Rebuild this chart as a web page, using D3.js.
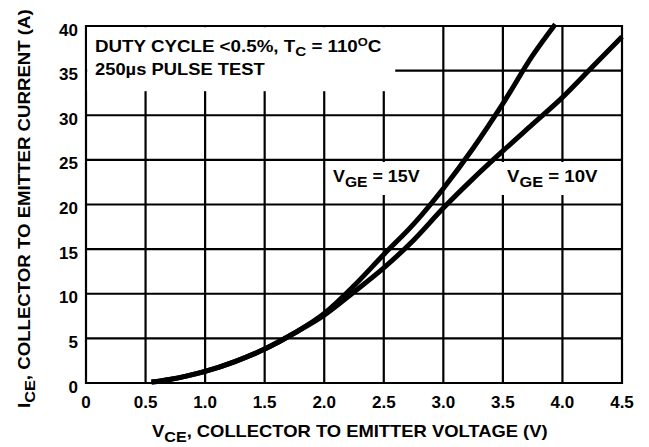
<!DOCTYPE html>
<meta charset="utf-8">
<script src="https://d3js.org/d3.v7.min.js"></script>
<style>
  body { margin: 0; background: #fff; }
  text { font-family: "Liberation Sans", Arial, sans-serif; font-weight: bold; fill: #000; }
</style>
<div id="chart"></div>
<script>
  // data
  const xTicks = [0, 0.5, 1.0, 1.5, 2.0, 2.5, 3.0, 3.5, 4.0, 4.5];
  const xTickLabels = ["0", "0.5", "1.0", "1.5", "2.0", "2.5", "3.0", "3.5", "4.0", "4.5"];
  const yTicks = [0, 5, 10, 15, 20, 25, 30, 35, 40];

  const vce15 = [0.55, 0.7, 0.85, 1.0, 1.25, 1.5, 1.75, 2.0, 2.25, 2.5, 2.75, 3.0, 3.25, 3.5, 3.75, 3.94];
  const ice15 = [0.1, 0.4, 0.8, 1.3, 2.4, 3.8, 5.6, 7.8, 10.9, 14.4, 17.8, 21.8, 26.3, 31.3, 36.7, 40.2];
  const vce10 = [0.55, 0.7, 0.85, 1.0, 1.25, 1.5, 1.75, 2.0, 2.25, 2.5, 2.75, 3.0, 3.25, 3.5, 3.75, 4.0, 4.25, 4.5];
  const ice10 = [0.1, 0.4, 0.8, 1.3, 2.4, 3.8, 5.6, 7.6, 10.2, 12.9, 16.0, 19.6, 22.9, 26.0, 29.0, 32.0, 35.4, 38.8];

  const width = 649, height = 447;

  const svg = d3.select("#chart")
    .append("svg")
    .attr("width", width)
    .attr("height", height);

  const x = d3.scaleLinear().domain([0, 4.5]).range([86, 622]);
  const y = d3.scaleLinear().domain([0, 40]).range([383, 26]);

  // grid
  const grid = svg.append("g").attr("stroke", "#000").attr("stroke-width", 2.2);
  grid.selectAll(".vx").data(xTicks).enter().append("line")
    .attr("x1", d => x(d)).attr("x2", d => x(d))
    .attr("y1", y(0) + 1).attr("y2", y(40) - 1);
  grid.selectAll(".hy").data(yTicks).enter().append("line")
    .attr("x1", x(0) - 1).attr("x2", x(4.5) + 1)
    .attr("y1", d => y(d)).attr("y2", d => y(d));

  // white patches behind the notes
  svg.append("rect").attr("x", x(0) + 1.2).attr("y", y(40) + 1.2)
    .attr("width", 308).attr("height", 64).attr("fill", "#fff");
  svg.append("rect").attr("x", 328).attr("y", 162).attr("width", 97).attr("height", 33).attr("fill", "#fff");
  svg.append("rect").attr("x", 500).attr("y", 162).attr("width", 100).attr("height", 33).attr("fill", "#fff");

  // curves
  const line = d3.line()
    .x(d => x(d[0]))
    .y(d => y(d[1]))
    .curve(d3.curveMonotoneX);

  [[vce15, ice15], [vce10, ice10]].forEach(([vs, is]) => {
    svg.append("path")
      .datum(vs.map((v, i) => [v, is[i]]))
      .attr("d", line)
      .attr("fill", "none")
      .attr("stroke", "#000")
      .attr("stroke-width", 5);
  });

  // tick labels
  svg.selectAll(".xl").data(xTicks).enter().append("text")
    .attr("x", d => x(d)).attr("y", 408)
    .attr("text-anchor", "middle").attr("font-size", 17)
    .text((d, i) => xTickLabels[i]);
  svg.selectAll(".yl").data(yTicks).enter().append("text")
    .attr("x", 78).attr("y", d => y(d) + 9.5)
    .attr("text-anchor", "end").attr("font-size", 17)
    .text(d => d);

  // text stretched to the width it has in the picture
  function stretched(tf, x0, x1, size, parts) {
    const g = svg.append("g");
    const t = g.append("text").attr("x", 0).attr("y", 0).attr("font-size", size);
    parts.forEach(p => {
      const s = t.append("tspan").text(p.t);
      if (p.fs) s.attr("font-size", p.fs);
      if (p.dy) s.attr("dy", p.dy);
    });
    const w = t.node().getBBox().width;
    g.attr("transform", tf + ` scale(${(x1 - x0) / w},1)`);
    return g;
  }

  stretched("translate(95,52)", 95, 382, 16, [
    { t: "DUTY CYCLE <0.5%, T" }, { t: "C", fs: 13, dy: 4 }, { t: " = 110", dy: -4 },
    { t: "O", fs: 11, dy: -6 }, { t: "C", dy: 6 }
  ]);
  stretched("translate(95,75)", 95, 265, 16, [{ t: "250\u00b5s PULSE TEST" }]);

  stretched("translate(333,182)", 333, 420, 16, [
    { t: "V" }, { t: "GE", fs: 14, dy: 5 }, { t: " = 15V", dy: -5 }
  ]);
  stretched("translate(507,182)", 507, 598, 16, [
    { t: "V" }, { t: "GE", fs: 14, dy: 5 }, { t: " = 10V", dy: -5 }
  ]);

  // axis titles
  stretched("translate(152,437)", 152, 548, 16, [
    { t: "V" }, { t: "CE", fs: 14, dy: 5 }, { t: ", COLLECTOR TO EMITTER VOLTAGE (V)", dy: -5 }
  ]);
  stretched("translate(30,408) rotate(-90)", 0, 399, 16, [
    { t: "I" }, { t: "CE", fs: 14, dy: 5 }, { t: ", COLLECTOR TO EMITTER CURRENT (A)", dy: -5 }
  ]);
</script>
